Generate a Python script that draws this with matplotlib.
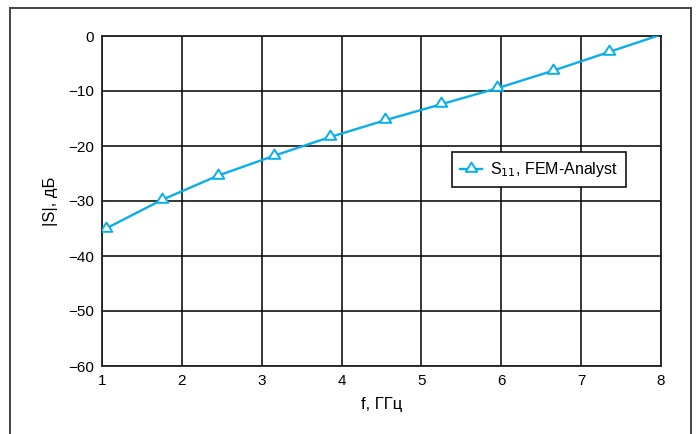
import matplotlib.pyplot as plt
from matplotlib.path import Path
from matplotlib.lines import Line2D

plt.rcParams['font.family'] = ['Liberation Sans', 'DejaVu Sans']

# curve S11 (FEM-Analyst)
f_line = [1.0, 1.05, 1.75, 2.45, 3.15, 3.85, 4.55, 5.25, 5.95, 6.65, 7.35, 7.95]
s_line = [-35.3, -35.0, -29.8, -25.4, -21.8, -18.4, -15.3, -12.4, -9.5, -6.3, -2.9, 0.0]

x_ticks = [1, 2, 3, 4, 5, 6, 7, 8]
y_ticks = [-60, -50, -40, -30, -20, -10, 0]

color = '#0aaee8'

# triangle whose base sits a bit under the curve
tri = Path([(0, 1.2), (-1, -0.4), (1, -0.4), (0, 1.2)],
           [Path.MOVETO, Path.LINETO, Path.LINETO, Path.CLOSEPOLY])

fig = plt.figure(figsize=(6.98, 4.34), dpi=100)
ax = fig.add_axes([102 / 698, 1 - 366 / 434, 559 / 698, 330 / 434])

ax.plot(f_line, s_line, color=color, lw=1.7, marker=tri, markersize=10,
        markerfacecolor='white', markeredgecolor=color, markeredgewidth=1.4,
        markevery=slice(1, -1), zorder=3)

ax.set_xlim(1, 8)
ax.set_ylim(-60, 0)
ax.set_xticks(x_ticks)
ax.set_yticks(y_ticks)
ax.grid(True, color='black', lw=1.1)
ax.tick_params(length=0, labelsize=11, pad=6)
for s in ax.spines.values():
    s.set_linewidth(1.3)
    s.set_color('#222222')

ax.set_xlabel('f, ГГц', fontsize=12, labelpad=6)
ax.set_ylabel('|S|, дБ', fontsize=12, labelpad=7)

handle = Line2D([], [], color=color, lw=1.7, marker=tri, markersize=10,
                markerfacecolor='white', markeredgecolor=color, markeredgewidth=1.4)
leg = ax.legend([handle], ['S$_{11}$, FEM-Analyst'], loc='upper left',
                bbox_to_anchor=(0.626, 0.648), borderaxespad=0, fontsize=11.5,
                fancybox=False, framealpha=1, edgecolor='black', handlelength=1.4,
                borderpad=0.5, handletextpad=0.5)
leg.get_frame().set_linewidth(1.1)

# outer frame (open at the bottom)
fx0, fx1, fy0 = 10 / 698, 691 / 698, 1 - 8 / 434
for xs, ys in [([fx0, fx0], [0, fy0]), ([fx0, fx1], [fy0, fy0]), ([fx1, fx1], [fy0, 0])]:
    fig.add_artist(Line2D(xs, ys, transform=fig.transFigure, color='#444444', lw=1.4))

fig.savefig('out.png', dpi=100)
